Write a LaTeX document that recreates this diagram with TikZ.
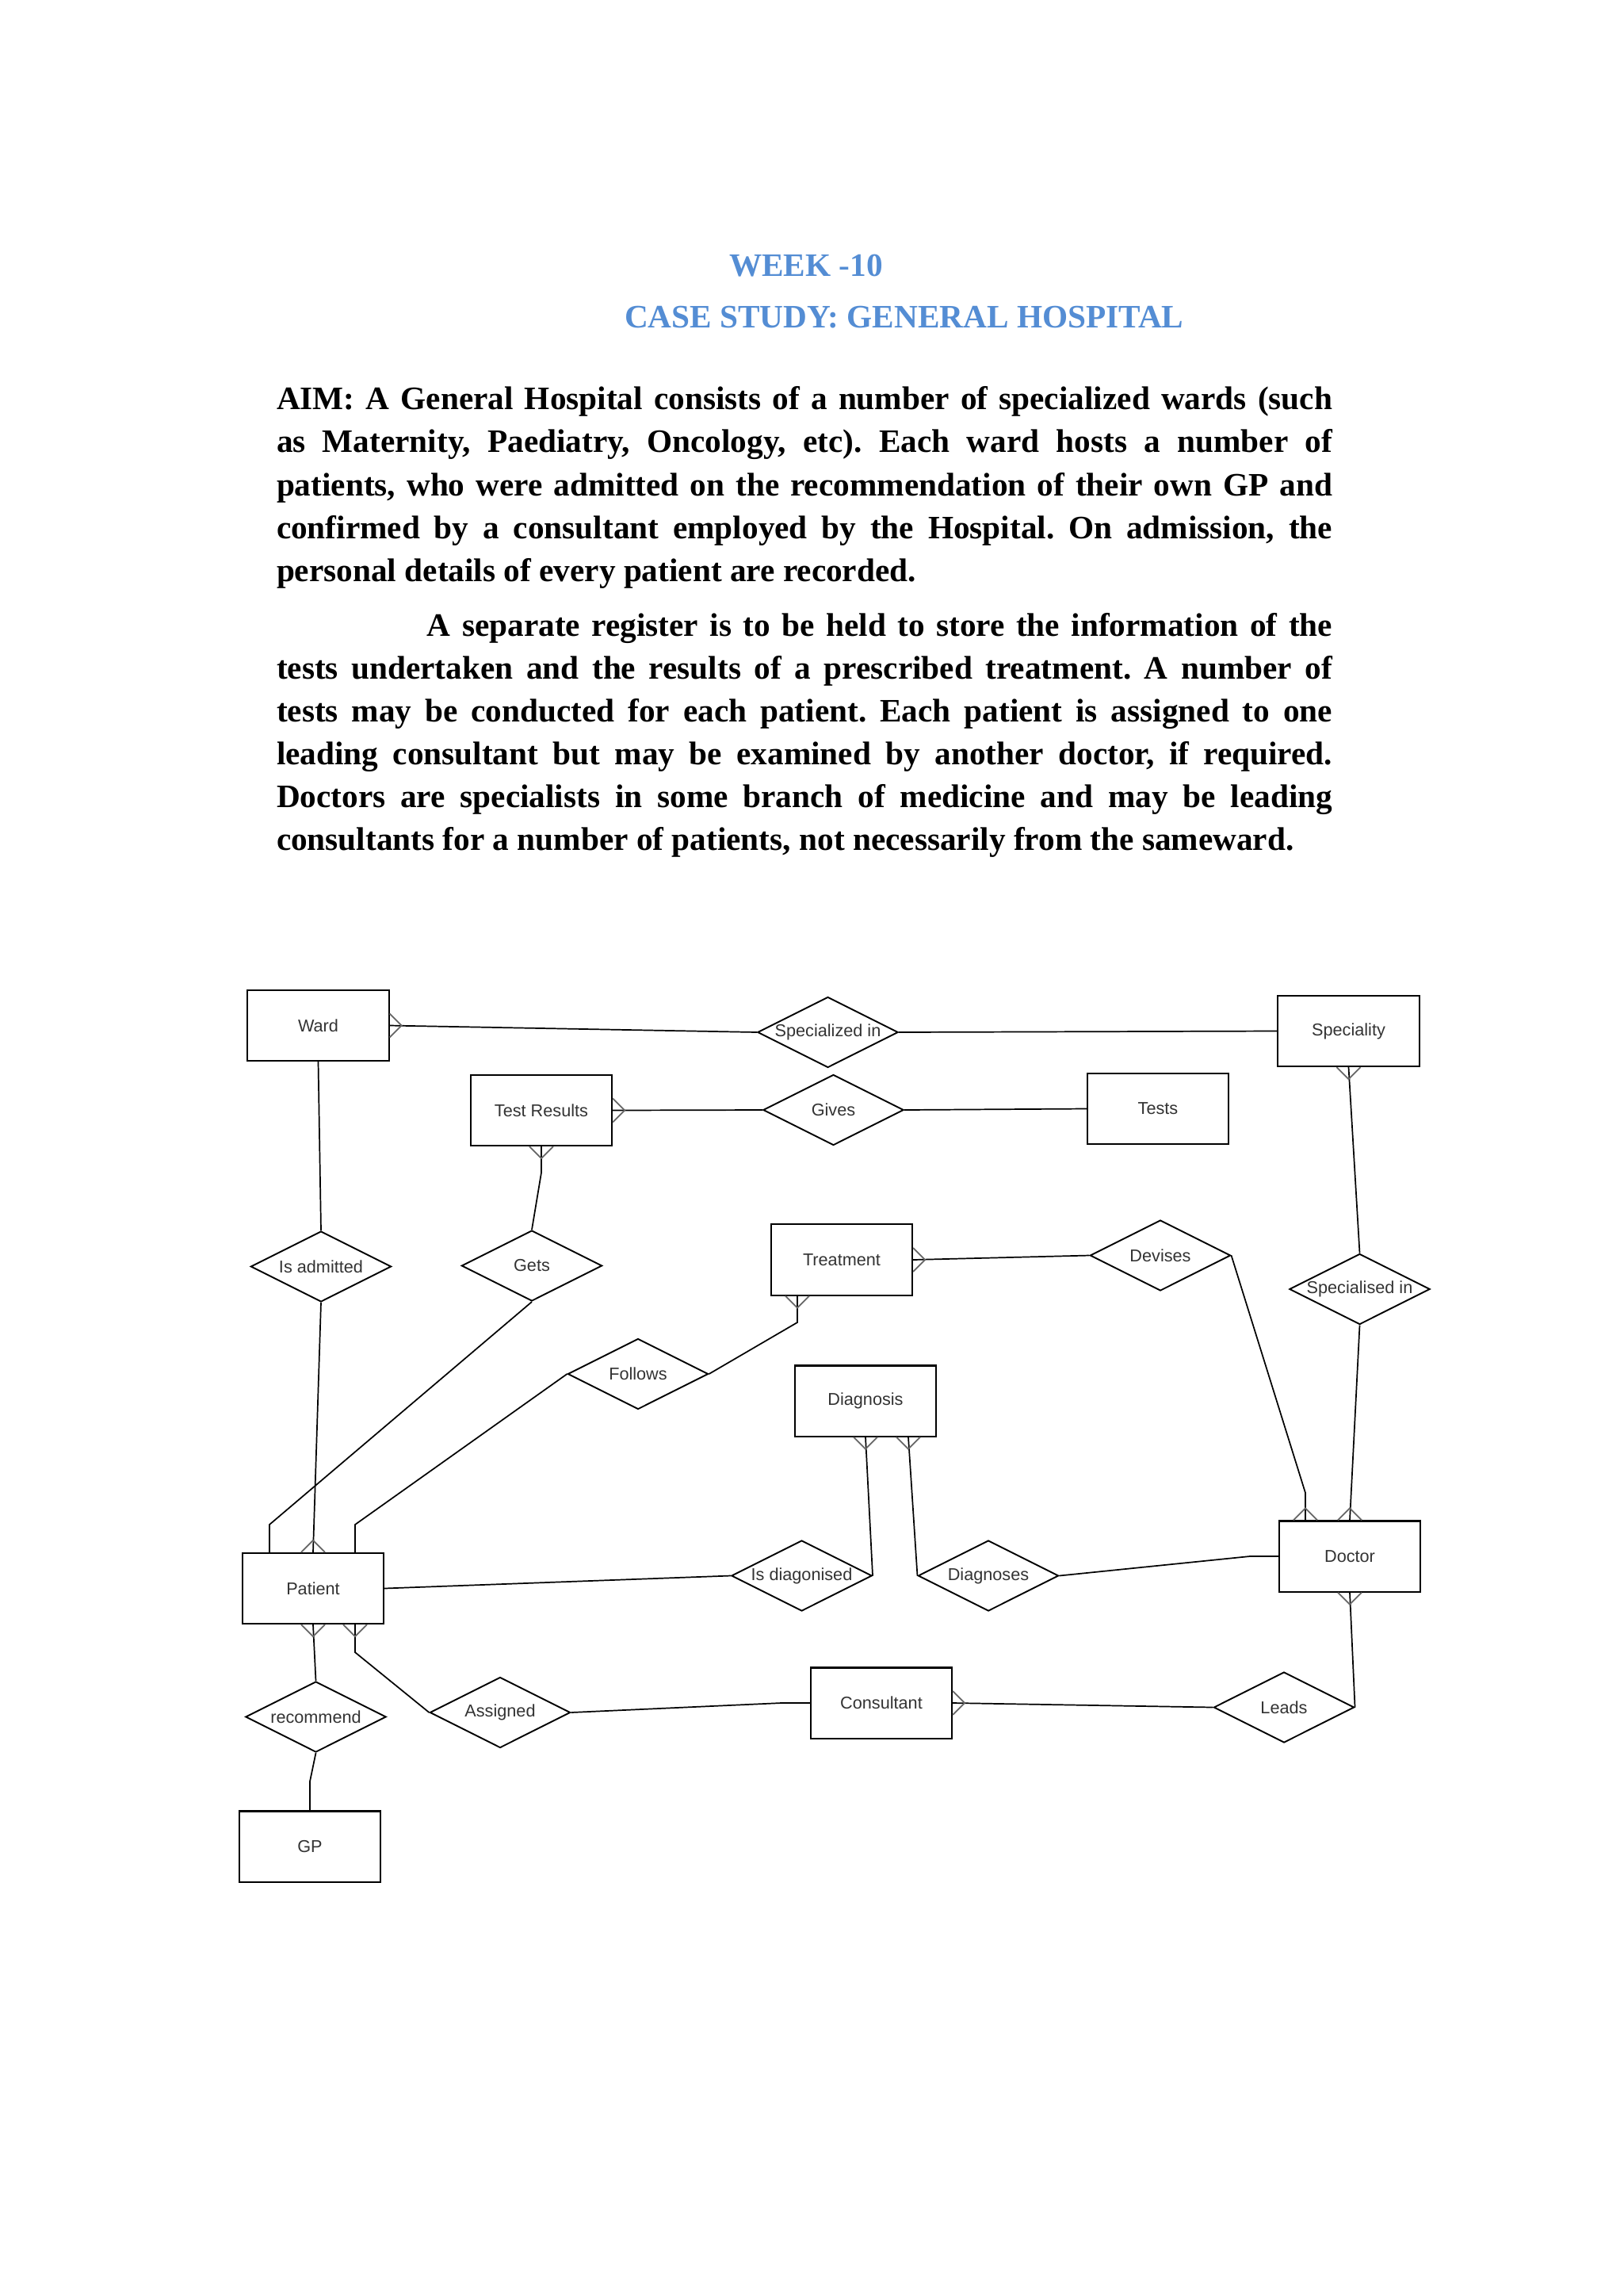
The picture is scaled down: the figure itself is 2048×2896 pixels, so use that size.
\documentclass[tikz,border=0pt]{standalone}
\usepackage{fontspec}
\setmainfont{Liberation Serif}
\newfontfamily\diafam{Liberation Sans}
\usetikzlibrary{shapes.geometric,calc}
\definecolor{titleblue}{HTML}{548DD4}
\definecolor{txtgray}{HTML}{333333}
\definecolor{crowgray}{HTML}{666666}
\newcommand{\diafont}{\diafam\fontsize{6.3}{7.6}\selectfont}
\newcommand{\bodyfont}{\bfseries\fontsize{12}{15.75}\selectfont}
\newcommand{\titlefont}{\bfseries\fontsize{12}{14}\selectfont}
\frenchspacing
\begin{document}
\begin{tikzpicture}[x=0.29066pt,y=-0.29066pt,
  ent/.style={draw=black, line width=0.6pt, minimum width=51.8pt, minimum height=25.9pt, inner sep=0pt, font=\diafont, text=txtgray},
  rel/.style={draw=black, line width=0.55pt, shape=diamond, minimum width=51.5pt, minimum height=25.9pt, inner sep=0pt},
  conn/.style={draw=black, line width=0.5pt},
  every label/.style={font=\diafont, text=txtgray, inner sep=0pt},
  txt/.style={anchor=base west, inner sep=0pt, outer sep=0pt},
  crow/.pic={\draw[crowgray, line width=0.5pt] (0,-15) -- (15,0) -- (0,15);}
]
\path[use as bounding box, fill=white] (0,0) rectangle (2048,2896);

% titles
\node[txt, text=titleblue, font=\titlefont] (week) at (920,348) {WEEK -10};
\node[txt, text=titleblue, font=\titlefont] (case) at (788,413) {CASE STUDY: GENERAL HOSPITAL};

% body text
\node[txt] (para1) at (349,516.7) {\parbox[t]{387.2pt}{\bodyfont\tolerance=10000\frenchspacing
AIM: A General Hospital consists of a number of specialized wards (such\linebreak
as Maternity, Paediatry, Oncology, etc). Each ward hosts a number of\linebreak
patients, who were admitted on the recommendation of their own GP and\linebreak
confirmed by a consultant employed by the Hospital. On admission, the\linebreak
personal details of every patient are recorded.}};
\node[txt] (para2) at (349,802) {\parbox[t]{387.2pt}{\bodyfont\tolerance=10000\frenchspacing
\hspace*{55.2pt}A separate register is to be held to store the information of the\linebreak
tests undertaken and the results of a prescribed treatment. A number of\linebreak
tests may be conducted for each patient. Each patient is assigned to one\linebreak
leading consultant but may be examined by another doctor, if required.\linebreak
Doctors are specialists in some branch of medicine and may be leading\linebreak
consultants for a number of patients, not necessarily from the sameward.}};

% entities
\node[ent] (ward) at (401.5,1293.5) {Ward};
\node[ent] (testres) at (683,1400.5) {Test Results};
\node[ent] (tests) at (1461,1398.5) {Tests};
\node[ent] (spec) at (1701.5,1300.5) {Speciality};
\node[ent] (treat) at (1062,1589) {Treatment};
\node[ent] (diag) at (1092,1767) {Diagnosis};
\node[ent] (patient) at (395,2003.5) {Patient};
\node[ent] (doctor) at (1703,1963) {Doctor};
\node[ent] (cons) at (1112,2148) {Consultant};
\node[ent] (gp) at (391,2329) {GP};

% relationships
\node[rel, label=center:{Specialized in}] (specin1) at (1044.5,1302) {};
\node[rel, label=center:{Gives}] (gives) at (1051.5,1400) {};
\node[rel, label=center:{Is admitted}] (isadm) at (405,1597.5) {};
\node[rel, label=center:{Gets}] (gets) at (671,1596.5) {};
\node[rel, label=center:{Follows}] (follows) at (805,1733) {};
\node[rel, label=center:{Devises}] (devises) at (1464,1583.5) {};
\node[rel, label=center:{Specialised in}] (specin2) at (1715.5,1626) {};
\node[rel, label=center:{Is diagonised}] (isdiag) at (1011.5,1987.5) {};
\node[rel, label=center:{Diagnoses}] (diagnoses) at (1247,1987.5) {};
\node[rel, label=center:{recommend}] (recommend) at (398.5,2165.5) {};
\node[rel, label=center:{Assigned}] (assigned) at (631,2160) {};
\node[rel, label=center:{Leads}] (leads) at (1620,2153.5) {};

% connectors
\draw[conn] (ward.east) -- (specin1.west);
\draw[conn] (specin1.east) -- (spec.west);
\draw[conn] (testres.east) -- (gives.west);
\draw[conn] (gives.east) -- (tests.west);
\draw[conn] (ward.south) -- (isadm.north);
\draw[conn] (isadm.south) -- (patient.north);
\draw[conn] (testres.south) -- ++(0,33) -- (gets.north);
\draw[conn] (gets.south) -- (340,1923) -- ($(patient.north)+(-55,0)$);
\draw[conn] (follows.west) -- (448,1923) -- ($(patient.north)+(53,0)$);
\draw[conn] (follows.east) -- (1006,1668) -- ($(treat.south)+(-56,0)$);
\draw[conn] (treat.east) -- (devises.west);
\draw[conn] (devises.east) -- (1647,1883) -- ($(doctor.north)+(-56,0)$);
\draw[conn] (spec.south) -- (specin2.north);
\draw[conn] (specin2.south) -- (doctor.north);
\draw[conn] (diag.south) -- (isdiag.east);
\draw[conn] ($(diag.south)+(54,0)$) -- (diagnoses.west);
\draw[conn] (diagnoses.east) -- (1577,1963) -- (doctor.west);
\draw[conn] (patient.east) -- (isdiag.west);
\draw[conn] (patient.south) -- (recommend.north);
\draw[conn] (recommend.south) -- (391,2247) -- (gp.north);
\draw[conn] ($(patient.south)+(53,0)$) -- ++(0,35) -- (assigned.west);
\draw[conn] (assigned.east) -- (986,2148) -- (cons.west);
\draw[conn] (cons.east) -- (leads.west);
\draw[conn] (doctor.south) -- (leads.east);

% crow's feet (many ends)
\pic at (ward.east) {crow};
\pic at (testres.east) {crow};
\pic[rotate=-90] at (testres.south) {crow};
\pic at (treat.east) {crow};
\pic[rotate=-90] at ($(treat.south)+(-56,0)$) {crow};
\pic[rotate=-90] at (spec.south) {crow};
\pic[rotate=-90] at (diag.south) {crow};
\pic[rotate=-90] at ($(diag.south)+(54,0)$) {crow};
\pic[rotate=90] at ($(doctor.north)+(-56,0)$) {crow};
\pic[rotate=90] at (doctor.north) {crow};
\pic[rotate=-90] at (doctor.south) {crow};
\pic[rotate=90] at (patient.north) {crow};
\pic[rotate=-90] at (patient.south) {crow};
\pic[rotate=-90] at ($(patient.south)+(53,0)$) {crow};
\pic at (cons.east) {crow};
\end{tikzpicture}
\end{document}
